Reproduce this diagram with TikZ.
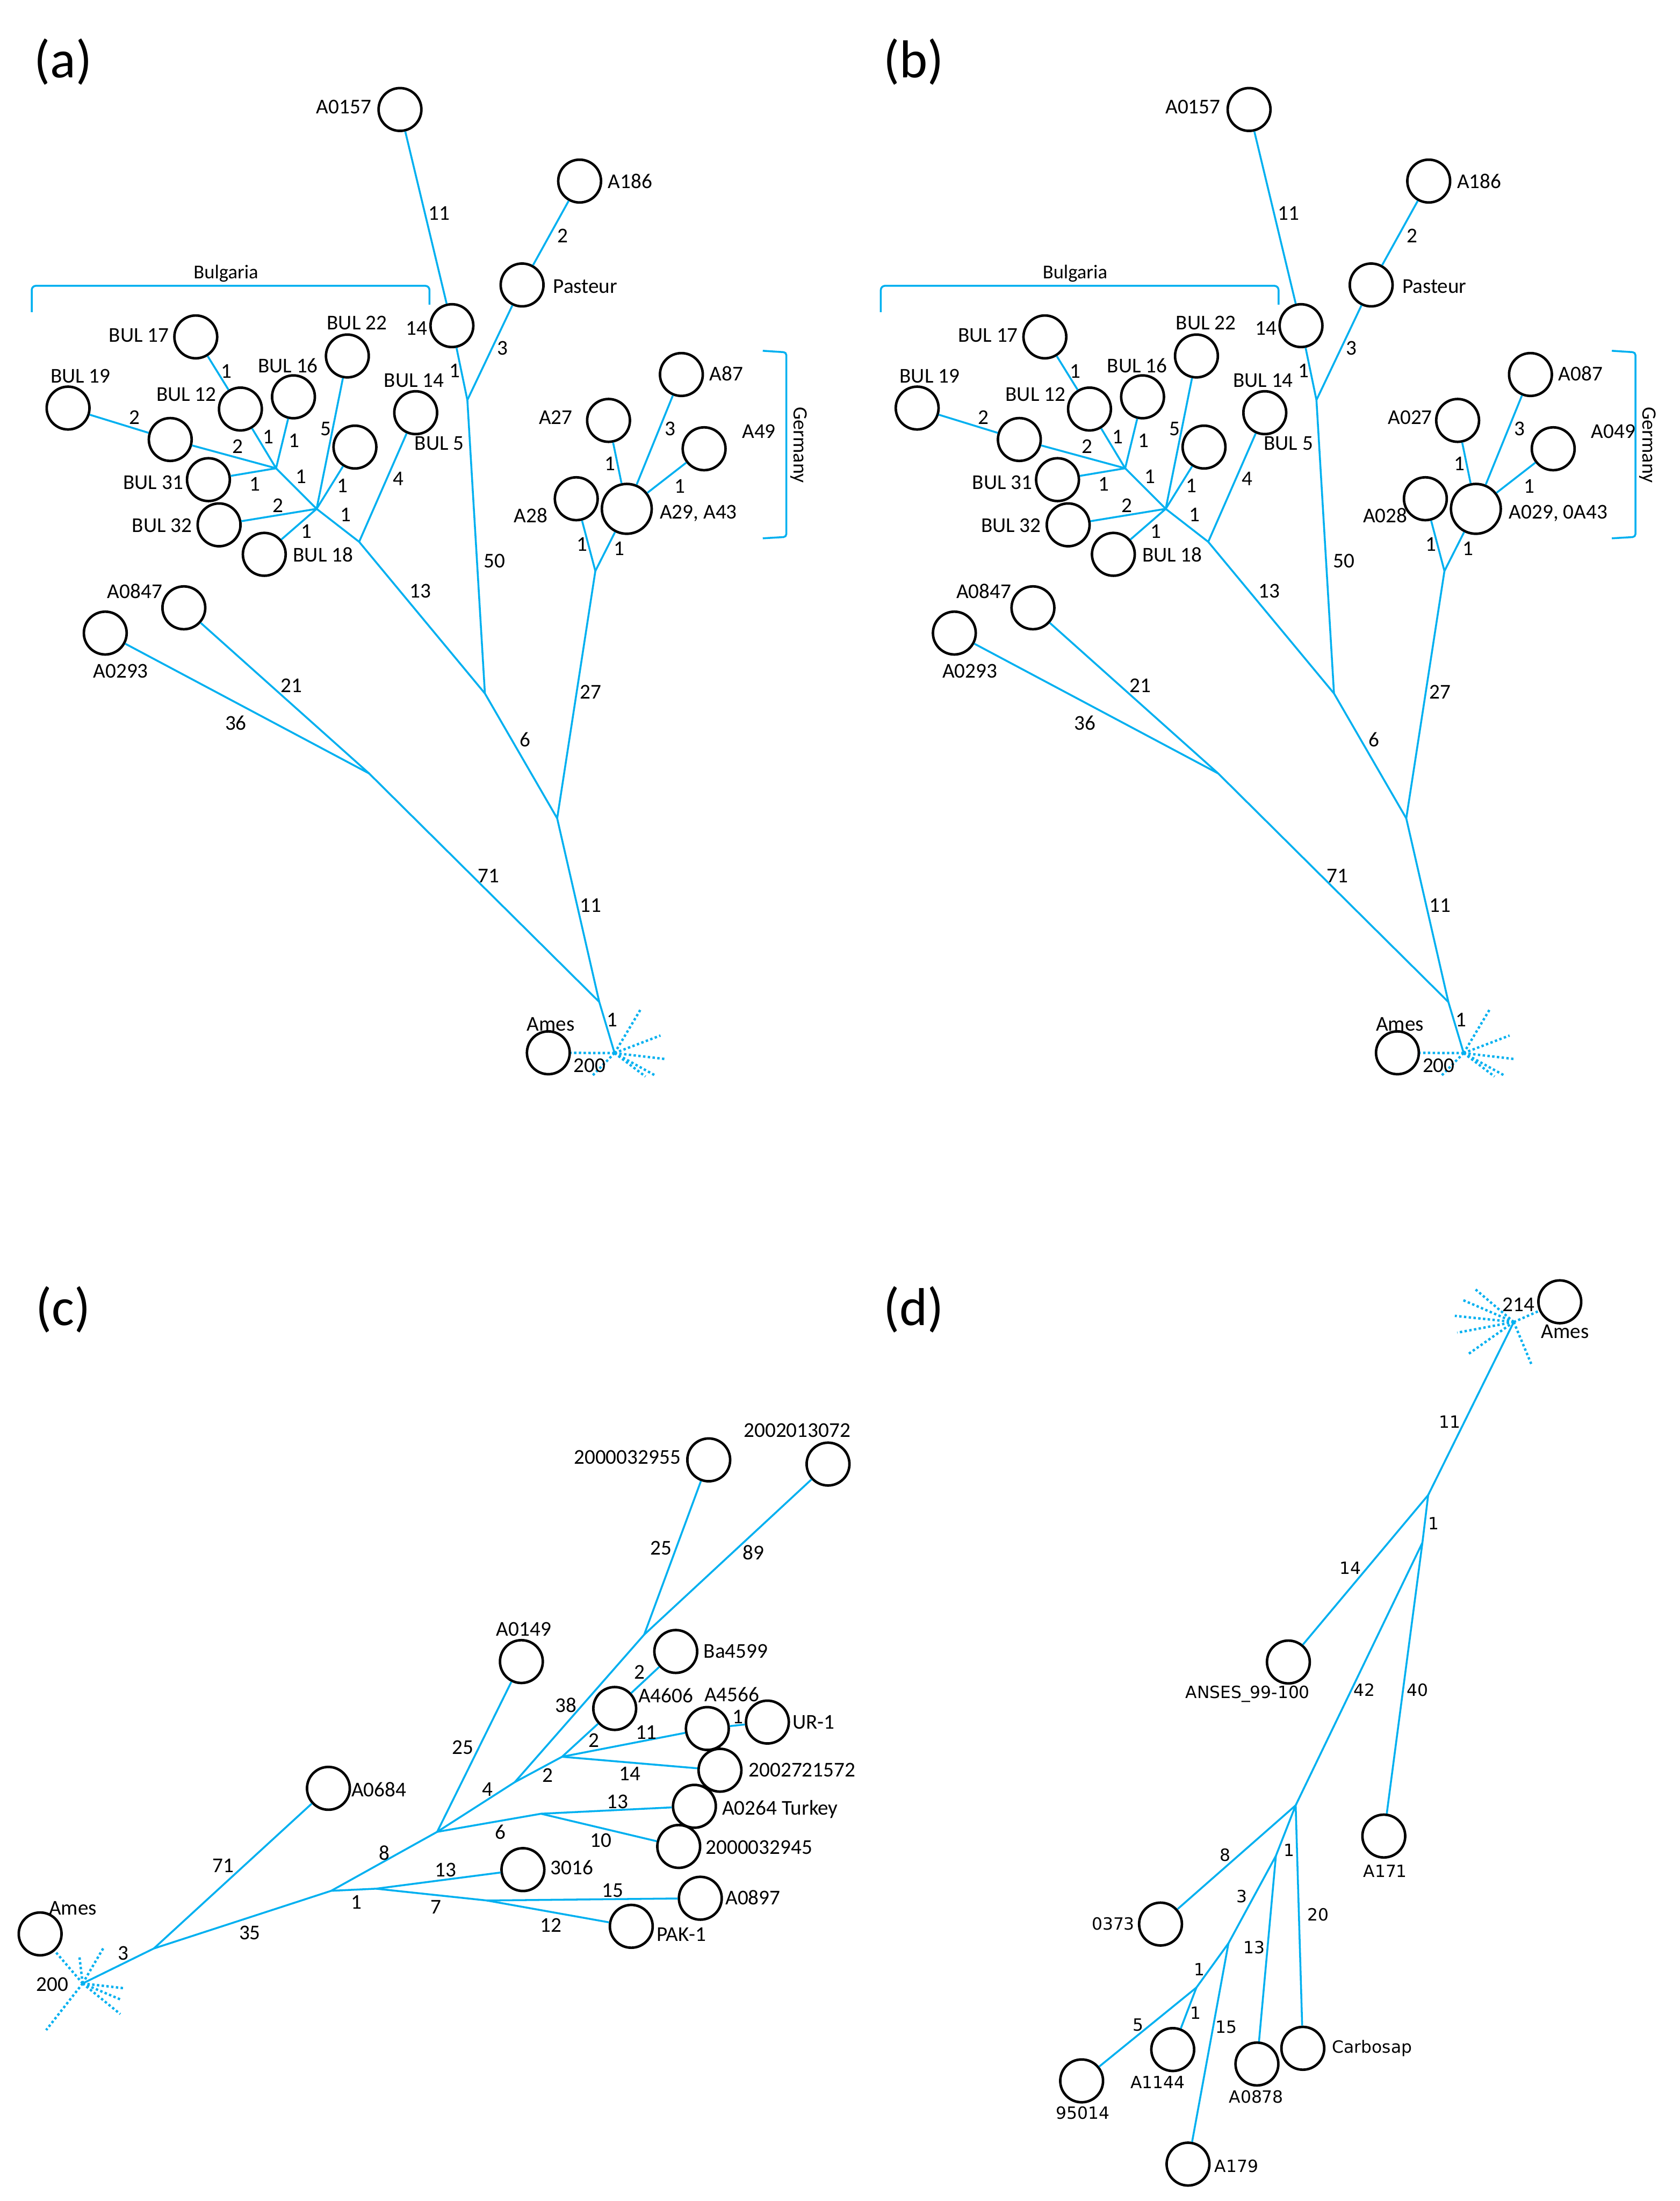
\documentclass[tikz,border=0pt]{standalone}
\usepackage{fontspec}
\setmainfont{Carlito}
\newfontfamily\dejavu{DejaVu Sans}
\definecolor{lblue}{HTML}{00B0F0}
\newcounter{lblc}
\newcommand\mylab[3][num]{\stepcounter{lblc}\node[#1] (lbl\arabic{lblc}) at (#2) {#3};}
\newcommand\treeab[6]{%
% ---- circles
\node[cnode] (#1a157) at (285,78) {};
\node[cnode] (#1a186) at (413,129) {};
\node[cnode] (#1past) at (372,203) {};
\node[cnode] (#1n14) at (322,232) {};
\node[cnode] (#1b17) at (139.5,240) {};
\node[cnode] (#1b19) at (48.5,290.7) {};
\node[cnode] (#1b12) at (171.3,291.4) {};
\node[cnode] (#1b16) at (209.1,282.7) {};
\node[cnode] (#1b22) at (247.5,253.6) {};
\node[cnode] (#1b14) at (296.2,294) {};
\node[cnode] (#1u1) at (121.3,313.1) {};
\node[cnode] (#1u2) at (252.9,318.5) {};
\node[cnode] (#1b31) at (148.5,341.7) {};
\node[cnode] (#1b32) at (156.1,373.9) {};
\node[cnode] (#1b18) at (188.3,394.9) {};
\node[cnode] (#1g87) at (485.5,266.8) {};
\node[cnode] (#1g27) at (433.6,299.5) {};
\node[cnode] (#1g49) at (501.7,319.7) {};
\node[cnode] (#1g28) at (410.6,355.3) {};
\node[bigc] (#1g29) at (446.6,362.5) {};
\node[cnode] (#1a847) at (131,433) {};
\node[cnode] (#1a293) at (75,451) {};
\node[cnode] (#1ames) at (390.7,750) {};
% ---- junctions
\coordinate (#1j1) at (333,285);
\coordinate (#1j2) at (345.5,494);
\coordinate (#1j3) at (397,583);
\coordinate (#1j4) at (427,713.8);
\coordinate (#1h) at (437.9,750.2);
\coordinate (#1j5) at (263,551);
\coordinate (#1c1) at (196.7,333.6);
\coordinate (#1c2) at (225.6,362.5);
\coordinate (#1c3) at (255.9,386);
\coordinate (#1g1) at (424.2,406.8);
% ---- edges
\draw[br] (#1a157) -- (#1n14);
\draw[br] (#1a186) -- (#1past);
\draw[br] (#1n14) -- (#1j1);
\draw[br] (#1past) -- (#1j1);
\draw[br] (#1j1) -- (#1j2);
\draw[br] (#1b19) -- (#1u1);
\draw[br] (#1u1) -- (#1c1);
\draw[br] (#1b17) -- (#1b12);
\draw[br] (#1b12) -- (#1c1);
\draw[br] (#1b16) -- (#1c1);
\draw[br] (#1b31) -- (#1c1);
\draw[br] (#1c1) -- (#1c2);
\draw[br] (#1b22) -- (#1c2);
\draw[br] (#1u2) -- (#1c2);
\draw[br] (#1b32) -- (#1c2);
\draw[br] (#1b18) -- (#1c2);
\draw[br] (#1c2) -- (#1c3);
\draw[br] (#1b14) -- (#1c3);
\draw[br] (#1c3) -- (#1j2);
\draw[br] (#1j2) -- (#1j3);
\draw[br] (#1g27) -- (#1g29);
\draw[br] (#1g87) -- (#1g29);
\draw[br] (#1g49) -- (#1g29);
\draw[br] (#1g28) -- (#1g1);
\draw[br] (#1g29) -- (#1g1);
\draw[br] (#1g1) -- (#1j3);
\draw[br] (#1j3) -- (#1j4);
\draw[br] (#1j4) -- (#1h);
\draw[br] (#1j5) -- (#1j4);
\draw[br] (#1a847) -- (#1j5);
\draw[br] (#1a293) -- (#1j5);
% ---- rays
\coordinate (#1r1) at (456.5,719);
\coordinate (#1r2) at (470.6,737.7);
\coordinate (#1r3) at (473.5,754.4);
\coordinate (#1r4) at (467.3,766.4);
\coordinate (#1r5) at (459.9,766.9);
\coordinate (#1r6) at (422.2,766.2);
\draw[ray] (#1h) -- (#1ames);
\foreach \k in {1,...,6} {\draw[ray] (#1h) -- (#1r\k);}
% ---- brackets
\coordinate (#1q1) at (22.6,222.4);
\coordinate (#1q2) at (22.6,203.6);
\coordinate (#1q3) at (306,203.6);
\coordinate (#1q4) at (306,217);
\draw[br,rounded corners=3pt] (#1q1) -- (#1q2) -- (#1q3) -- (#1q4);
\coordinate (#1p1) at (543.5,249.9);
\coordinate (#1p2) at (560.3,251);
\coordinate (#1p3) at (560.3,382.5);
\coordinate (#1p4) at (543.5,383.5);
\draw[br,rounded corners=2pt] (#1p1) -- (#1p2) -- (#1p3) -- (#1p4);
% ---- edge numbers
\mylab{313,152}{11}
\mylab{401,168}{2}
\mylab{324,264}{1}
\mylab{358,248}{3}
\mylab{352.5,399.5}{50}
\mylab{95.8,297.4}{2}
\mylab{169.5,318.2}{2}
\mylab{161.3,264.3}{1}
\mylab{191.3,311.3}{1}
\mylab{209.7,313.7}{1}
\mylab{181.5,345}{1}
\mylab{214.5,339.7}{1}
\mylab{232,305.5}{5}
\mylab{244,346.1}{1}
\mylab{198.1,360.1}{2}
\mylab{218.4,378.6}{1}
\mylab{246.3,366.8}{1}
\mylab{283.8,341}{4}
\mylab{299.4,421.1}{13}
\mylab{374,527}{6}
\mylab{421,493}{27}
\mylab{421,645}{11}
\mylab{436.2,726.6}{1}
\mylab{420.1,759.2}{200}
\mylab{348,624}{71}
\mylab{207.6,488.5}{21}
\mylab{168,515}{36}
\mylab{434.8,330.4}{1}
\mylab{477.6,305.3}{3}
\mylab{484.6,346.4}{1}
\mylab{414.6,387.6}{1}
\mylab{441.1,390.7}{1}
% ---- node names
\mylab{245,76}{A0157}
\mylab{449,129}{A186}
\mylab{417,204}{Pasteur}
\mylab{297,234}{14}
\mylab[brlab]{161,195}{Bulgaria}
\mylab{99,239}{BUL 17}
\mylab{57.4,268}{BUL 19}
\mylab{132.8,281}{BUL 12}
\mylab{205.2,260.6}{BUL 16}
\mylab{254.3,230.1}{BUL 22}
\mylab{295,271}{BUL 14}
\mylab{313,316}{BUL 5}
\mylab{109.2,343.7}{BUL 31}
\mylab{115.4,374.3}{BUL 32}
\mylab{230.2,395.3}{BUL 18}
\mylab{96,421}{A0847}
\mylab{86,478}{A0293}
\mylab{392.4,729.5}{Ames}
\mylab[germ]{569,317}{Germany}
\mylab[wlab]{505.3,266}{#3}
\mylab[wlab]{383.8,297.4}{#2}
\mylab[wlab]{528.6,307.3}{#4}
\mylab[wlab]{366,367.3}{#5}
\mylab[wlab]{470,365.7}{#6}
}
\begin{document}
\begin{tikzpicture}[x=1pt,y=-1pt,
  cnode/.style={circle,draw=black,line width=1.8pt,minimum size=30.5pt,inner sep=0pt},
  bigc/.style={cnode,minimum size=35.5pt},
  br/.style={draw=lblue,line width=1.35pt},
  ray/.style={draw=lblue,line width=1.7pt,dash pattern=on 1.7pt off 1.7pt},
  num/.style={font=\fontsize{15}{17}\selectfont,inner sep=0pt},
  wlab/.style={num,anchor=west},
  brlab/.style={font=\fontsize{14}{16}\selectfont,inner sep=0pt},
  germ/.style={font=\fontsize{14.5}{16}\selectfont,inner sep=0pt,rotate=-90},
  dnum/.style={font=\dejavu\fontsize{12}{14}\selectfont,inner sep=0pt},
  plab/.style={font=\fontsize{38}{44}\selectfont,inner sep=0pt},
]
\useasboundingbox (0,0) rectangle (1197,1568);
\fill[white] (0,0) rectangle (1197,1568);

% panel letters
\mylab[plab]{45,44}{(a)}
\mylab[plab]{651,44}{(b)}
\mylab[plab]{45,933}{(c)}
\mylab[plab]{651,933}{(d)}

% ================= (a) =================
\treeab{pa}{A27}{A87}{A49}{A28}{A29, A43}
% ================= (b) =================
\begin{scope}[xshift=605pt]
\treeab{pb}{A027}{A087}{A049}{A028}{A029, 0A43}
\end{scope}

% ================= (c) =================
\node[cnode] (cames) at (28.6,1377.7) {};
\node[cnode] (c0684) at (234,1274) {};
\node[cnode] (c0149) at (371.5,1183.7) {};
\node[cnode] (c2955) at (505,1040) {};
\node[cnode] (c3072) at (590,1043) {};
\node[cnode] (c4599) at (481.5,1176.5) {};
\node[cnode] (c4606) at (438,1217.1) {};
\node[cnode] (c4566) at (504,1231.4) {};
\node[cnode] (cur1) at (546.8,1226.8) {};
\node[cnode] (c1572) at (513,1261.1) {};
\node[cnode] (c0264) at (494.8,1286.8) {};
\node[cnode] (c2945) at (483.6,1315.4) {};
\node[cnode] (c3016) at (372.6,1331.9) {};
\node[cnode] (c0897) at (499,1352.3) {};
\node[cnode] (cpak) at (449.8,1372.3) {};
\coordinate (ch) at (58.9,1413);
\coordinate (cj1) at (109.6,1388.1);
\coordinate (cj2) at (236,1347);
\coordinate (cj2b) at (268,1345.5);
\coordinate (cj3) at (311.5,1305);
\coordinate (cj5) at (366.8,1269.6);
\coordinate (cj6) at (459,1164.5);
\coordinate (cj7) at (400.5,1251.5);
\coordinate (cj8) at (385.5,1292.1);
\coordinate (cj9) at (346.9,1353.9);
\draw[br] (ch) -- (cj1);
\draw[br] (cj1) -- (c0684);
\draw[br] (cj1) -- (cj2);
\draw[br] (cj2) -- (cj3);
\draw[br] (cj2) -- (cj2b);
\draw[br] (cj2b) -- (c3016);
\draw[br] (cj2b) -- (cj9);
\draw[br] (cj9) -- (c0897);
\draw[br] (cj9) -- (cpak);
\draw[br] (cj3) -- (c0149);
\draw[br] (cj3) -- (cj5);
\draw[br] (cj3) -- (cj8);
\draw[br] (cj8) -- (c0264);
\draw[br] (cj8) -- (c2945);
\draw[br] (cj5) -- (cj6);
\draw[br] (cj5) -- (cj7);
\draw[br] (cj7) -- (c4606);
\draw[br] (c4606) -- (c4599);
\draw[br] (cj7) -- (c4566);
\draw[br] (c4566) -- (cur1);
\draw[br] (cj7) -- (c1572);
\draw[br] (cj6) -- (c2955);
\draw[br] (cj6) -- (c3072);
\coordinate (cr1) at (56.5,1393.2);
\coordinate (cr2) at (73.7,1387.7);
\coordinate (cr3) at (89.2,1416.5);
\coordinate (cr4) at (86.3,1424.6);
\coordinate (cr5) at (85.7,1434.8);
\coordinate (cr6) at (32.9,1446.2);
\draw[ray] (ch) -- (cames);
\foreach \k in {1,...,6} {\draw[ray] (ch) -- (cr\k);}
\mylab{88,1391.4}{3}
\mylab{37.3,1413.6}{200}
\mylab{51.9,1359.3}{Ames}
\mylab{159,1329}{71}
\mylab{178,1377}{35}
\mylab{274,1320}{8}
\mylab{254,1355}{1}
\mylab{317.5,1332.2}{13}
\mylab{310.5,1358.4}{7}
\mylab{436.5,1346.7}{15}
\mylab{392.6,1371.5}{12}
\mylab{329.7,1245}{25}
\mylab{347.5,1274.9}{4}
\mylab{356.5,1305}{6}
\mylab{440.1,1283.6}{13}
\mylab{428.3,1310.9}{10}
\mylab{403.3,1214.6}{38}
\mylab{390.4,1264.8}{2}
\mylab{423,1239.9}{2}
\mylab{455.8,1191.4}{2}
\mylab{460.5,1234.3}{11}
\mylab{525.8,1223.1}{1}
\mylab{448.7,1263.7}{14}
\mylab{471,1103}{25}
\mylab{537,1106}{89}
\mylab{270,1275}{A0684}
\mylab{373.2,1160.5}{A0149}
\mylab{447,1038}{2000032955}
\mylab{568,1019}{2002013072}
\mylab{524.3,1176.5}{Ba4599}
\mylab{474.4,1207.8}{A4606}
\mylab{521.5,1207.3}{A4566}
\mylab{579.8,1227.1}{UR-1}
\mylab{571.5,1260.8}{2002721572}
\mylab{555.8,1288.9}{A0264 Turkey}
\mylab{540.8,1316.2}{2000032945}
\mylab{407.5,1330.6}{3016}
\mylab{536.5,1351.9}{A0897}
\mylab{485.5,1378}{PAK-1}

% ================= (d) =================
\node[cnode] (dames) at (1111.4,927.4) {};
\node[cnode] (danses) at (918,1184) {};
\node[cnode] (d171) at (986,1308) {};
\node[cnode] (d0373) at (826.9,1370.7) {};
\node[cnode] (dcarb) at (928.3,1459.2) {};
\node[cnode] (d0878) at (895.6,1470.4) {};
\node[cnode] (d179) at (846.5,1541.7) {};
\node[cnode] (d95014) at (770.7,1482.4) {};
\node[cnode] (d1144) at (835.6,1460.1) {};
\coordinate (dh) at (1078.6,941.8);
\coordinate (dj1) at (1017.6,1065.1);
\coordinate (dj2) at (1013.5,1099);
\coordinate (dj3) at (923.2,1286.1);
\coordinate (dj4) at (909.1,1322.1);
\coordinate (dj5) at (875.3,1384.4);
\coordinate (dj6) at (852.5,1415.9);
\draw[br] (dh) -- (dj1);
\draw[br] (dj1) -- (danses);
\draw[br] (dj1) -- (dj2);
\draw[br] (dj2) -- (dj3);
\draw[br] (dj2) -- (d171);
\draw[br] (dj3) -- (d0373);
\draw[br] (dj3) -- (dj4);
\draw[br] (dj3) -- (dcarb);
\draw[br] (dj4) -- (dj5);
\draw[br] (dj4) -- (d0878);
\draw[br] (dj5) -- (dj6);
\draw[br] (dj5) -- (d179);
\draw[br] (dj6) -- (d95014);
\draw[br] (dj6) -- (d1144);
\coordinate (dr1) at (1050.8,918.1);
\coordinate (dr2) at (1042.7,926.3);
\coordinate (dr3) at (1036.6,937.4);
\coordinate (dr4) at (1038.3,949.4);
\coordinate (dr5) at (1046.4,964.5);
\coordinate (dr6) at (1091.1,971.8);
\draw[ray] (dh) -- (dames);
\foreach \k in {1,...,6} {\draw[ray] (dh) -- (dr\k);}
\mylab{1082,929.5}{214}
\mylab{1115.2,948.8}{Ames}
\mylab[dnum]{1033,1013}{11}
\mylab[dnum]{962,1117}{14}
\mylab[dnum]{1021.6,1085.2}{1}
\mylab[dnum]{972,1204}{42}
\mylab[dnum]{1010,1204}{40}
\mylab[dnum]{872.8,1321.5}{8}
\mylab[dnum]{918.4,1318.2}{1}
\mylab[dnum]{939.1,1363.8}{20}
\mylab[dnum]{885,1351}{3}
\mylab[dnum]{893.7,1387.4}{13}
\mylab[dnum]{854.5,1403.1}{1}
\mylab[dnum]{873.8,1444}{15}
\mylab[dnum]{811,1442.4}{5}
\mylab[dnum]{852,1434.2}{1}
\mylab[dnum]{889,1207}{ANSES\_99-100}
\mylab[dnum]{987,1333}{A171}
\mylab[dnum]{793.2,1370.3}{0373}
\mylab[dnum]{977.7,1459.2}{Carbosap}
\mylab[dnum]{895.1,1493.6}{A0878}
\mylab[dnum]{881,1543.3}{A179}
\mylab[dnum]{771.4,1505.4}{95014}
\mylab[dnum]{824.9,1483.3}{A1144}
\end{tikzpicture}
\end{document}
